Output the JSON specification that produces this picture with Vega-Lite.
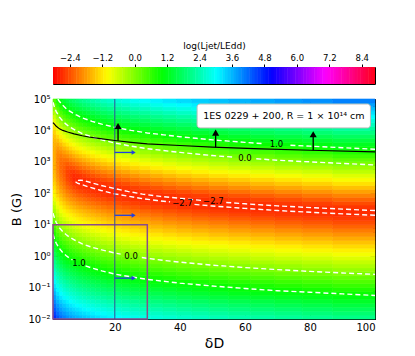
{
"$schema": "https://vega.github.io/schema/vega-lite/v6.json",
"padding": {"left": 10, "top": 40, "right": 5, "bottom": 5},
"spacing": 8,
"resolve": {"scale": {"color": "independent"}},
"config": {"font": "DejaVu Sans", "view": {"stroke": "black", "strokeWidth": 1}, "axis": {"labelFont": "DejaVu Sans", "titleFont": "DejaVu Sans", "labelColor": "black", "titleColor": "black", "tickColor": "black", "domain": false, "grid": false, "titleFontWeight": "normal"}},
"datasets": {
"rows": [{"k":1,"y":-2,"y2":-1.875},{"k":2,"y":-1.875,"y2":-1.75},{"k":3,"y":-1.75,"y2":-1.625},{"k":4,"y":-1.625,"y2":-1.5},{"k":5,"y":-1.5,"y2":-1.375},{"k":6,"y":-1.375,"y2":-1.25},{"k":7,"y":-1.25,"y2":-1.125},{"k":8,"y":-1.125,"y2":-1},{"k":9,"y":-1,"y2":-0.875},{"k":10,"y":-0.875,"y2":-0.75},{"k":11,"y":-0.75,"y2":-0.625},{"k":12,"y":-0.625,"y2":-0.5},{"k":13,"y":-0.5,"y2":-0.375},{"k":14,"y":-0.375,"y2":-0.25},{"k":15,"y":-0.25,"y2":-0.125},{"k":16,"y":-0.125,"y2":0},{"k":17,"y":0,"y2":0.125},{"k":18,"y":0.125,"y2":0.25},{"k":19,"y":0.25,"y2":0.375},{"k":20,"y":0.375,"y2":0.5},{"k":21,"y":0.5,"y2":0.625},{"k":22,"y":0.625,"y2":0.75},{"k":23,"y":0.75,"y2":0.875},{"k":24,"y":0.875,"y2":1},{"k":25,"y":1,"y2":1.125},{"k":26,"y":1.125,"y2":1.25},{"k":27,"y":1.25,"y2":1.375},{"k":28,"y":1.375,"y2":1.5},{"k":29,"y":1.5,"y2":1.625},{"k":30,"y":1.625,"y2":1.75},{"k":31,"y":1.75,"y2":1.875},{"k":32,"y":1.875,"y2":2},{"k":33,"y":2,"y2":2.125},{"k":34,"y":2.125,"y2":2.25},{"k":35,"y":2.25,"y2":2.375},{"k":36,"y":2.375,"y2":2.5},{"k":37,"y":2.5,"y2":2.625},{"k":38,"y":2.625,"y2":2.75},{"k":39,"y":2.75,"y2":2.875},{"k":40,"y":2.875,"y2":3},{"k":41,"y":3,"y2":3.125},{"k":42,"y":3.125,"y2":3.25},{"k":43,"y":3.25,"y2":3.375},{"k":44,"y":3.375,"y2":3.5},{"k":45,"y":3.5,"y2":3.625},{"k":46,"y":3.625,"y2":3.75},{"k":47,"y":3.75,"y2":3.875},{"k":48,"y":3.875,"y2":4},{"k":49,"y":4,"y2":4.125},{"k":50,"y":4.125,"y2":4.25},{"k":51,"y":4.25,"y2":4.375},{"k":52,"y":4.375,"y2":4.5},{"k":53,"y":4.5,"y2":4.625},{"k":54,"y":4.625,"y2":4.75},{"k":55,"y":4.75,"y2":4.875},{"k":56,"y":4.875,"y2":5}],
"hm": [
{"x0":1,"x1":2,"v":[4.74,4.55,4.36,4.17,3.99,3.80,3.61,3.42,3.24,3.05,2.86,2.67,2.49,2.30,2.11,1.92,1.74,1.55,1.36,1.17,0.99,0.80,0.61,0.42,0.24,0.06,-0.13,-0.31,-0.48,-0.66,-0.83,-0.99,-1.13,-1.26,-1.37,-1.46,-1.53,-1.58,-1.62,-1.64,-1.66,-1.66,-1.66,-1.64,-1.61,-1.56,-1.48,-1.36,-1.20,-1.02,-0.81,-0.59,-0.35,-0.11,0.13,0.38]},
{"x0":2,"x1":3,"v":[4.39,4.20,4.01,3.83,3.64,3.45,3.26,3.08,2.89,2.70,2.51,2.33,2.14,1.95,1.76,1.58,1.39,1.20,1.01,0.83,0.64,0.45,0.26,0.08,-0.11,-0.30,-0.49,-0.65,-0.84,-1.01,-1.18,-1.34,-1.49,-1.62,-1.74,-1.83,-1.91,-1.96,-1.99,-2.01,-2.00,-1.97,-1.91,-1.81,-1.68,-1.52,-1.32,-1.10,-0.87,-0.64,-0.40,-0.15,0.10,0.35,0.60,0.85]},
{"x0":3,"x1":4,"v":[4.17,3.98,3.79,3.61,3.42,3.23,3.04,2.86,2.67,2.48,2.29,2.11,1.92,1.73,1.54,1.36,1.17,0.98,0.79,0.61,0.42,0.23,0.04,-0.14,-0.33,-0.52,-0.71,-0.89,-1.06,-1.24,-1.41,-1.56,-1.72,-1.85,-1.97,-2.06,-2.13,-2.18,-2.20,-2.18,-2.13,-2.03,-1.89,-1.72,-1.53,-1.31,-1.08,-0.85,-0.60,-0.35,-0.10,0.16,0.41,0.66,0.91,1.16]},
{"x0":4,"x1":5,"v":[4.01,3.82,3.63,3.44,3.26,3.07,2.88,2.69,2.51,2.32,2.13,1.94,1.76,1.57,1.38,1.19,1.01,0.82,0.63,0.44,0.26,0.07,-0.12,-0.31,-0.49,-0.68,-0.87,-1.06,-1.24,-1.40,-1.57,-1.73,-1.87,-2.01,-2.12,-2.21,-2.27,-2.30,-2.28,-2.22,-2.11,-1.96,-1.78,-1.57,-1.34,-1.10,-0.87,-0.62,-0.37,-0.12,0.13,0.38,0.63,0.88,1.13,1.38]},
{"x0":5,"x1":6,"v":[3.88,3.69,3.50,3.31,3.13,2.94,2.75,2.56,2.38,2.19,2.00,1.81,1.63,1.44,1.25,1.06,0.88,0.69,0.50,0.31,0.13,-0.06,-0.25,-0.44,-0.62,-0.81,-1.00,-1.19,-1.37,-1.56,-1.72,-1.89,-2.05,-2.20,-2.33,-2.44,-2.49,-2.49,-2.42,-2.29,-2.10,-1.90,-1.67,-1.45,-1.20,-0.95,-0.70,-0.45,-0.20,0.05,0.30,0.55,0.80,1.05,1.30,1.55]},
{"x0":6,"x1":7,"v":[3.77,3.58,3.40,3.21,3.02,2.83,2.65,2.46,2.27,2.08,1.90,1.71,1.52,1.33,1.15,0.96,0.77,0.58,0.40,0.21,0.02,-0.17,-0.36,-0.54,-0.73,-0.92,-1.11,-1.29,-1.48,-1.67,-1.86,-2.01,-2.18,-2.34,-2.48,-2.58,-2.60,-2.55,-2.42,-2.24,-2.01,-1.80,-1.55,-1.30,-1.05,-0.80,-0.55,-0.30,-0.05,0.20,0.45,0.70,0.95,1.20,1.45,1.70]},
{"x0":7,"x1":8,"v":[3.68,3.49,3.31,3.12,2.93,2.74,2.56,2.37,2.18,1.99,1.81,1.62,1.43,1.24,1.06,0.87,0.68,0.49,0.31,0.12,-0.07,-0.26,-0.45,-0.63,-0.82,-1.01,-1.20,-1.38,-1.57,-1.76,-1.94,-2.13,-2.31,-2.48,-2.62,-2.71,-2.69,-2.58,-2.39,-2.16,-1.92,-1.68,-1.43,-1.18,-0.93,-0.68,-0.43,-0.18,0.07,0.32,0.57,0.82,1.07,1.32,1.57,1.82]},
{"x0":8,"x1":9,"v":[3.60,3.41,3.23,3.04,2.85,2.66,2.48,2.29,2.10,1.91,1.73,1.54,1.35,1.16,0.98,0.79,0.60,0.41,0.23,0.04,-0.15,-0.34,-0.53,-0.71,-0.90,-1.09,-1.28,-1.46,-1.65,-1.84,-2.02,-2.21,-2.38,-2.54,-2.67,-2.71,-2.65,-2.50,-2.29,-2.06,-1.81,-1.57,-1.32,-1.07,-0.82,-0.57,-0.32,-0.07,0.18,0.43,0.68,0.93,1.18,1.43,1.68,1.93]},
{"x0":9,"x1":10,"v":[3.53,3.34,3.16,2.97,2.78,2.59,2.41,2.22,2.03,1.84,1.66,1.47,1.28,1.09,0.91,0.72,0.53,0.34,0.16,-0.03,-0.22,-0.41,-0.60,-0.78,-0.97,-1.16,-1.35,-1.53,-1.72,-1.91,-2.09,-2.27,-2.45,-2.60,-2.69,-2.70,-2.60,-2.42,-2.20,-1.96,-1.72,-1.47,-1.22,-0.97,-0.72,-0.47,-0.22,0.03,0.28,0.53,0.78,1.03,1.28,1.53,1.78,2.03]},
{"x0":10,"x1":11.2,"v":[3.46,3.27,3.08,2.90,2.71,2.52,2.33,2.15,1.96,1.77,1.58,1.40,1.21,1.02,0.83,0.65,0.46,0.27,0.08,-0.10,-0.29,-0.48,-0.67,-0.85,-1.04,-1.23,-1.42,-1.60,-1.79,-1.98,-2.16,-2.34,-2.51,-2.64,-2.71,-2.67,-2.54,-2.34,-2.11,-1.87,-1.63,-1.38,-1.13,-0.88,-0.63,-0.38,-0.13,0.13,0.38,0.63,0.88,1.13,1.38,1.63,1.88,2.13]},
{"x0":11.2,"x1":12.5,"v":[3.39,3.20,3.01,2.83,2.64,2.45,2.26,2.08,1.89,1.70,1.51,1.33,1.14,0.95,0.76,0.58,0.39,0.20,0.01,-0.17,-0.36,-0.55,-0.74,-0.92,-1.11,-1.30,-1.49,-1.67,-1.86,-2.05,-2.23,-2.41,-2.56,-2.68,-2.71,-2.63,-2.47,-2.26,-2.02,-1.78,-1.53,-1.28,-1.03,-0.78,-0.53,-0.28,-0.03,0.22,0.47,0.72,0.97,1.22,1.47,1.72,1.97,2.22]},
{"x0":12.5,"x1":14,"v":[3.32,3.13,2.94,2.76,2.57,2.38,2.19,2.01,1.82,1.63,1.44,1.26,1.07,0.88,0.69,0.51,0.32,0.13,-0.06,-0.24,-0.43,-0.62,-0.81,-0.99,-1.18,-1.37,-1.56,-1.74,-1.93,-2.12,-2.30,-2.47,-2.61,-2.70,-2.69,-2.58,-2.39,-2.17,-1.93,-1.68,-1.43,-1.18,-0.93,-0.68,-0.43,-0.18,0.07,0.32,0.57,0.82,1.07,1.32,1.57,1.82,2.07,2.32]},
{"x0":14,"x1":15.7,"v":[3.25,3.06,2.87,2.68,2.50,2.31,2.12,1.93,1.75,1.56,1.37,1.18,1.00,0.81,0.62,0.43,0.25,0.06,-0.13,-0.32,-0.50,-0.69,-0.88,-1.07,-1.25,-1.44,-1.63,-1.82,-2.00,-2.19,-2.36,-2.53,-2.65,-2.71,-2.66,-2.51,-2.31,-2.07,-1.83,-1.58,-1.33,-1.08,-0.83,-0.58,-0.33,-0.08,0.17,0.42,0.67,0.92,1.17,1.42,1.67,1.92,2.17,2.42]},
{"x0":15.7,"x1":17.6,"v":[3.17,2.99,2.80,2.61,2.42,2.24,2.05,1.86,1.67,1.49,1.30,1.11,0.92,0.74,0.55,0.36,0.17,-0.01,-0.20,-0.39,-0.58,-0.76,-0.95,-1.14,-1.33,-1.51,-1.70,-1.89,-2.07,-2.26,-2.43,-2.58,-2.68,-2.70,-2.61,-2.43,-2.21,-1.98,-1.73,-1.48,-1.23,-0.98,-0.73,-0.48,-0.23,0.02,0.27,0.52,0.77,1.02,1.27,1.52,1.77,2.02,2.27,2.52]},
{"x0":17.6,"x1":19.7,"v":[3.10,2.91,2.73,2.54,2.35,2.16,1.98,1.79,1.60,1.41,1.23,1.04,0.85,0.66,0.48,0.29,0.10,-0.09,-0.27,-0.46,-0.65,-0.84,-1.02,-1.21,-1.40,-1.59,-1.77,-1.96,-2.14,-2.32,-2.49,-2.63,-2.70,-2.67,-2.55,-2.35,-2.12,-1.88,-1.64,-1.39,-1.14,-0.89,-0.64,-0.39,-0.14,0.12,0.37,0.62,0.87,1.12,1.37,1.62,1.87,2.12,2.37,2.62]},
{"x0":19.7,"x1":22,"v":[3.03,2.84,2.66,2.47,2.28,2.09,1.91,1.72,1.53,1.34,1.16,0.97,0.78,0.59,0.41,0.22,0.03,-0.16,-0.34,-0.53,-0.72,-0.91,-1.09,-1.28,-1.47,-1.66,-1.84,-2.03,-2.21,-2.39,-2.55,-2.66,-2.70,-2.63,-2.48,-2.27,-2.03,-1.79,-1.54,-1.29,-1.04,-0.79,-0.54,-0.29,-0.04,0.21,0.46,0.71,0.96,1.21,1.46,1.71,1.96,2.21,2.46,2.71]},
{"x0":22,"x1":24.7,"v":[2.96,2.77,2.58,2.40,2.21,2.02,1.83,1.65,1.46,1.27,1.08,0.90,0.71,0.52,0.33,0.15,-0.04,-0.23,-0.42,-0.60,-0.79,-0.98,-1.17,-1.35,-1.54,-1.73,-1.91,-2.10,-2.28,-2.45,-2.60,-2.69,-2.69,-2.58,-2.40,-2.17,-1.93,-1.69,-1.44,-1.19,-0.94,-0.69,-0.44,-0.19,0.06,0.31,0.56,0.81,1.06,1.31,1.56,1.81,2.06,2.31,2.56,2.81]},
{"x0":24.7,"x1":27.7,"v":[2.89,2.70,2.51,2.32,2.14,1.95,1.76,1.57,1.39,1.20,1.01,0.82,0.64,0.45,0.26,0.07,-0.11,-0.30,-0.49,-0.68,-0.86,-1.05,-1.24,-1.43,-1.61,-1.80,-1.99,-2.17,-2.35,-2.51,-2.64,-2.70,-2.65,-2.51,-2.31,-2.08,-1.84,-1.59,-1.34,-1.09,-0.84,-0.59,-0.34,-0.09,0.16,0.41,0.66,0.91,1.16,1.41,1.66,1.91,2.16,2.41,2.66,2.91]},
{"x0":27.7,"x1":31,"v":[2.81,2.63,2.44,2.25,2.06,1.88,1.69,1.50,1.31,1.13,0.94,0.75,0.56,0.38,0.19,0.00,-0.19,-0.37,-0.56,-0.75,-0.94,-1.12,-1.31,-1.50,-1.69,-1.87,-2.06,-2.24,-2.42,-2.57,-2.67,-2.69,-2.61,-2.44,-2.22,-1.98,-1.74,-1.49,-1.24,-0.99,-0.74,-0.49,-0.24,0.01,0.26,0.51,0.76,1.01,1.26,1.51,1.76,2.01,2.26,2.51,2.76,3.01]},
{"x0":31,"x1":34.8,"v":[2.74,2.56,2.37,2.18,1.99,1.81,1.62,1.43,1.24,1.06,0.87,0.68,0.49,0.31,0.12,-0.07,-0.26,-0.44,-0.63,-0.82,-1.01,-1.19,-1.38,-1.57,-1.76,-1.94,-2.13,-2.31,-2.48,-2.62,-2.69,-2.67,-2.55,-2.36,-2.13,-1.89,-1.64,-1.39,-1.14,-0.89,-0.64,-0.39,-0.14,0.11,0.36,0.61,0.86,1.11,1.36,1.61,1.86,2.11,2.36,2.61,2.86,3.11]},
{"x0":34.8,"x1":39,"v":[2.67,2.48,2.30,2.11,1.92,1.73,1.55,1.36,1.17,0.98,0.80,0.61,0.42,0.23,0.05,-0.14,-0.33,-0.52,-0.71,-0.89,-1.08,-1.27,-1.46,-1.64,-1.83,-2.02,-2.20,-2.38,-2.54,-2.65,-2.70,-2.63,-2.48,-2.27,-2.03,-1.79,-1.54,-1.29,-1.04,-0.79,-0.54,-0.29,-0.04,0.21,0.46,0.71,0.96,1.21,1.46,1.71,1.96,2.21,2.46,2.71,2.96,3.21]},
{"x0":39,"x1":43.7,"v":[2.60,2.41,2.22,2.03,1.85,1.66,1.47,1.28,1.10,0.91,0.72,0.53,0.35,0.16,-0.03,-0.22,-0.40,-0.59,-0.78,-0.97,-1.15,-1.34,-1.53,-1.72,-1.90,-2.09,-2.27,-2.44,-2.59,-2.68,-2.68,-2.58,-2.40,-2.18,-1.94,-1.69,-1.44,-1.19,-0.94,-0.69,-0.44,-0.19,0.06,0.31,0.56,0.81,1.06,1.31,1.56,1.81,2.06,2.31,2.56,2.81,3.06,3.31]},
{"x0":43.7,"x1":49,"v":[2.53,2.34,2.15,1.96,1.78,1.59,1.40,1.21,1.03,0.84,0.65,0.46,0.28,0.09,-0.10,-0.29,-0.48,-0.66,-0.85,-1.04,-1.23,-1.41,-1.60,-1.79,-1.97,-2.16,-2.34,-2.50,-2.63,-2.69,-2.65,-2.52,-2.31,-2.08,-1.84,-1.60,-1.35,-1.10,-0.85,-0.60,-0.35,-0.10,0.16,0.41,0.66,0.91,1.16,1.41,1.66,1.91,2.16,2.41,2.66,2.91,3.16,3.41]},
{"x0":49,"x1":55,"v":[2.45,2.26,2.08,1.89,1.70,1.51,1.33,1.14,0.95,0.76,0.58,0.39,0.20,0.01,-0.17,-0.36,-0.55,-0.74,-0.92,-1.11,-1.30,-1.49,-1.67,-1.86,-2.05,-2.23,-2.40,-2.56,-2.67,-2.69,-2.61,-2.44,-2.22,-1.99,-1.75,-1.50,-1.25,-1.00,-0.75,-0.50,-0.25,0.01,0.26,0.51,0.76,1.01,1.26,1.51,1.76,2.01,2.26,2.51,2.76,3.01,3.26,3.51]},
{"x0":55,"x1":61.7,"v":[2.38,2.19,2.00,1.82,1.63,1.44,1.25,1.07,0.88,0.69,0.50,0.32,0.13,-0.06,-0.25,-0.43,-0.62,-0.81,-1.00,-1.18,-1.37,-1.56,-1.75,-1.93,-2.12,-2.30,-2.47,-2.61,-2.69,-2.67,-2.55,-2.36,-2.13,-1.89,-1.65,-1.40,-1.15,-0.90,-0.65,-0.40,-0.15,0.11,0.36,0.61,0.86,1.11,1.36,1.61,1.86,2.11,2.36,2.61,2.86,3.11,3.36,3.61]},
{"x0":61.7,"x1":69.2,"v":[2.31,2.12,1.93,1.74,1.56,1.37,1.18,0.99,0.81,0.62,0.43,0.24,0.06,-0.13,-0.32,-0.51,-0.69,-0.88,-1.07,-1.26,-1.44,-1.63,-1.82,-2.00,-2.19,-2.36,-2.53,-2.65,-2.69,-2.63,-2.48,-2.27,-2.04,-1.79,-1.55,-1.30,-1.05,-0.80,-0.55,-0.30,-0.05,0.21,0.46,0.71,0.96,1.21,1.46,1.71,1.96,2.21,2.46,2.71,2.96,3.21,3.46,3.71]},
{"x0":69.2,"x1":77.6,"v":[2.23,2.05,1.86,1.67,1.48,1.30,1.11,0.92,0.73,0.55,0.36,0.17,-0.02,-0.20,-0.39,-0.58,-0.77,-0.95,-1.14,-1.33,-1.52,-1.70,-1.89,-2.08,-2.26,-2.43,-2.58,-2.67,-2.68,-2.58,-2.40,-2.18,-1.94,-1.70,-1.45,-1.20,-0.95,-0.70,-0.45,-0.20,0.06,0.31,0.56,0.81,1.06,1.31,1.56,1.81,2.06,2.31,2.56,2.81,3.06,3.31,3.56,3.81]},
{"x0":77.6,"x1":87,"v":[2.16,1.97,1.79,1.60,1.41,1.22,1.04,0.85,0.66,0.47,0.29,0.10,-0.09,-0.28,-0.46,-0.65,-0.84,-1.03,-1.22,-1.40,-1.59,-1.78,-1.96,-2.15,-2.33,-2.49,-2.62,-2.69,-2.65,-2.51,-2.31,-2.08,-1.84,-1.60,-1.35,-1.10,-0.85,-0.60,-0.35,-0.10,0.16,0.41,0.66,0.91,1.16,1.41,1.66,1.91,2.16,2.41,2.66,2.91,3.16,3.41,3.66,3.91]},
{"x0":87,"x1":100,"v":[2.08,1.89,1.71,1.52,1.33,1.14,0.96,0.77,0.58,0.39,0.21,0.02,-0.17,-0.36,-0.54,-0.73,-0.92,-1.11,-1.30,-1.48,-1.67,-1.86,-2.04,-2.23,-2.40,-2.55,-2.66,-2.68,-2.60,-2.43,-2.21,-1.98,-1.74,-1.49,-1.24,-0.99,-0.74,-0.49,-0.24,0.02,0.27,0.52,0.77,1.02,1.27,1.52,1.77,2.02,2.27,2.52,2.77,3.02,3.27,3.52,3.77,4.02]}
],
"cont": [
{"s":"u1a","o":1,"d":2.5,"lb":5.0},{"s":"u1a","o":2,"d":3,"lb":4.92},{"s":"u1a","o":3,"d":4,"lb":4.8},{"s":"u1a","o":4,"d":5,"lb":4.7},{"s":"u1a","o":5,"d":6,"lb":4.62},{"s":"u1a","o":6,"d":8,"lb":4.5},{"s":"u1a","o":7,"d":10,"lb":4.4},{"s":"u1a","o":8,"d":13,"lb":4.29},{"s":"u1a","o":9,"d":16,"lb":4.2},{"s":"u1a","o":10,"d":20,"lb":4.1},{"s":"u1a","o":11,"d":25,"lb":4.0},{"s":"u1a","o":12,"d":30,"lb":3.92},{"s":"u1a","o":13,"d":35,"lb":3.86},{"s":"u1a","o":14,"d":40,"lb":3.8},{"s":"u1a","o":15,"d":45,"lb":3.75},{"s":"u1a","o":16,"d":50,"lb":3.7},{"s":"u1a","o":17,"d":55,"lb":3.66},{"s":"u1a","o":18,"d":60,"lb":3.62},{"s":"u1a","o":19,"d":65.5,"lb":3.58},
{"s":"u1b","o":1,"d":74,"lb":3.53},{"s":"u1b","o":2,"d":80,"lb":3.5},{"s":"u1b","o":3,"d":90,"lb":3.45},{"s":"u1b","o":4,"d":100,"lb":3.4},
{"s":"u0a","o":1,"d":1,"lb":4.9},{"s":"u0a","o":2,"d":1.5,"lb":4.72},{"s":"u0a","o":3,"d":2,"lb":4.6},{"s":"u0a","o":4,"d":3,"lb":4.42},{"s":"u0a","o":5,"d":4,"lb":4.3},{"s":"u0a","o":6,"d":5,"lb":4.2},{"s":"u0a","o":7,"d":6,"lb":4.12},{"s":"u0a","o":8,"d":8,"lb":4.0},{"s":"u0a","o":9,"d":10,"lb":3.9},{"s":"u0a","o":10,"d":13,"lb":3.79},{"s":"u0a","o":11,"d":16,"lb":3.7},{"s":"u0a","o":12,"d":20,"lb":3.6},{"s":"u0a","o":13,"d":25,"lb":3.5},{"s":"u0a","o":14,"d":30,"lb":3.42},{"s":"u0a","o":15,"d":35,"lb":3.36},{"s":"u0a","o":16,"d":40,"lb":3.3},{"s":"u0a","o":17,"d":45,"lb":3.25},{"s":"u0a","o":18,"d":50,"lb":3.2},{"s":"u0a","o":19,"d":56.5,"lb":3.15},
{"s":"u0b","o":1,"d":63.5,"lb":3.1},{"s":"u0b","o":2,"d":70,"lb":3.05},{"s":"u0b","o":3,"d":80,"lb":3.0},{"s":"u0b","o":4,"d":90,"lb":2.95},{"s":"u0b","o":5,"d":100,"lb":2.9},
{"s":"l0a","o":1,"d":1,"lb":1.37},{"s":"l0a","o":2,"d":1.5,"lb":1.2},{"s":"l0a","o":3,"d":2,"lb":1.07},{"s":"l0a","o":4,"d":3,"lb":0.9},{"s":"l0a","o":5,"d":4,"lb":0.78},{"s":"l0a","o":6,"d":5,"lb":0.69},{"s":"l0a","o":7,"d":6,"lb":0.61},{"s":"l0a","o":8,"d":8,"lb":0.49},{"s":"l0a","o":9,"d":10,"lb":0.39},{"s":"l0a","o":10,"d":13,"lb":0.28},{"s":"l0a","o":11,"d":16,"lb":0.2},{"s":"l0a","o":12,"d":20,"lb":0.1},{"s":"l0a","o":13,"d":21.8,"lb":0.065},
{"s":"l0b","o":1,"d":28.3,"lb":-0.045},{"s":"l0b","o":2,"d":35,"lb":-0.136},{"s":"l0b","o":3,"d":40,"lb":-0.19},{"s":"l0b","o":4,"d":50,"lb":-0.286},{"s":"l0b","o":5,"d":60,"lb":-0.363},{"s":"l0b","o":6,"d":70,"lb":-0.428},{"s":"l0b","o":7,"d":80,"lb":-0.485},{"s":"l0b","o":8,"d":90,"lb":-0.535},{"s":"l0b","o":9,"d":100,"lb":-0.58},
{"s":"l1a","o":1,"d":1,"lb":0.7},{"s":"l1a","o":2,"d":1.5,"lb":0.53},{"s":"l1a","o":3,"d":2,"lb":0.41},{"s":"l1a","o":4,"d":3,"lb":0.24},{"s":"l1a","o":5,"d":4,"lb":0.11},{"s":"l1a","o":6,"d":5,"lb":0.02},{"s":"l1a","o":7,"d":6,"lb":-0.06},{"s":"l1a","o":8,"d":7,"lb":-0.12},
{"s":"l1b","o":1,"d":11,"lb":-0.31},{"s":"l1b","o":2,"d":13,"lb":-0.38},{"s":"l1b","o":3,"d":16,"lb":-0.47},{"s":"l1b","o":4,"d":20,"lb":-0.57},{"s":"l1b","o":5,"d":25,"lb":-0.66},{"s":"l1b","o":6,"d":30,"lb":-0.74},{"s":"l1b","o":7,"d":35,"lb":-0.8},{"s":"l1b","o":8,"d":40,"lb":-0.86},{"s":"l1b","o":9,"d":50,"lb":-0.95},{"s":"l1b","o":10,"d":60,"lb":-1.03},{"s":"l1b","o":11,"d":70,"lb":-1.1},{"s":"l1b","o":12,"d":80,"lb":-1.15},{"s":"l1b","o":13,"d":90,"lb":-1.2},{"s":"l1b","o":14,"d":100,"lb":-1.25},
{"s":"m1","o":1,"d":100,"lb":1.45},{"s":"m1","o":2,"d":85,"lb":1.52},{"s":"m1","o":3,"d":70,"lb":1.6},{"s":"m1","o":4,"d":60,"lb":1.665},{"s":"m1","o":5,"d":54,"lb":1.71},
{"s":"m2","o":1,"d":46.5,"lb":1.775},{"s":"m2","o":2,"d":40,"lb":1.84},{"s":"m2","o":3,"d":34,"lb":1.9},{"s":"m2","o":4,"d":28.5,"lb":1.975},{"s":"m2","o":5,"d":24,"lb":2.06},{"s":"m2","o":6,"d":20,"lb":2.15},{"s":"m2","o":7,"d":15.8,"lb":2.25},{"s":"m2","o":8,"d":13,"lb":2.33},{"s":"m2","o":9,"d":11,"lb":2.39},{"s":"m2","o":10,"d":9.5,"lb":2.42},{"s":"m2","o":11,"d":8.5,"lb":2.41},{"s":"m2","o":12,"d":7.9,"lb":2.37},{"s":"m2","o":13,"d":8.5,"lb":2.32},{"s":"m2","o":14,"d":10,"lb":2.27},{"s":"m2","o":15,"d":12,"lb":2.2},{"s":"m2","o":16,"d":15.8,"lb":2.09},{"s":"m2","o":17,"d":20,"lb":1.98},{"s":"m2","o":18,"d":24,"lb":1.91},{"s":"m2","o":19,"d":28.5,"lb":1.83},{"s":"m2","o":20,"d":33,"lb":1.77},{"s":"m2","o":21,"d":37,"lb":1.725},
{"s":"m3","o":1,"d":44.5,"lb":1.646},{"s":"m3","o":2,"d":50,"lb":1.595},{"s":"m3","o":3,"d":60,"lb":1.52},{"s":"m3","o":4,"d":70,"lb":1.45},{"s":"m3","o":5,"d":85,"lb":1.37},{"s":"m3","o":6,"d":100,"lb":1.3}
],
"labels": [{"d":69.7,"lb":3.557,"t":"1.0"},{"d":60,"lb":3.12,"t":"0.0"},{"d":25,"lb":0.01,"t":"0.0"},{"d":9,"lb":-0.22,"t":"1.0"},{"d":40.8,"lb":1.68,"t":"−2.7"},{"d":50.3,"lb":1.74,"t":"−2.7"}],
"bl": [{"d":1,"lb":4.25},{"d":1.5,"lb":4.19},{"d":2,"lb":4.13},{"d":3,"lb":4.05},{"d":4,"lb":4.0},{"d":5.5,"lb":3.95},{"d":7.5,"lb":3.89},{"d":10,"lb":3.83},{"d":12,"lb":3.79},{"d":15,"lb":3.75},{"d":20,"lb":3.68},{"d":25,"lb":3.62},{"d":30,"lb":3.57},{"d":40,"lb":3.52},{"d":50,"lb":3.47},{"d":65,"lb":3.41},{"d":80,"lb":3.37},{"d":100,"lb":3.32}],
"arrows": [{"d":21,"b0":3.67,"b1":4.06,"h":4.14},{"d":51,"b0":3.46,"b1":3.85,"h":3.93},{"d":81,"b0":3.37,"b1":3.79,"h":3.88}],
"barrows": [{"lb":3.3,"d0":20,"d1":25.5,"h":25.8},{"lb":1.3,"d0":20,"d1":25.5,"h":25.8},{"lb":-0.7,"d0":20,"d1":25.5,"h":25.8}]
},
"vconcat": [
{
"width": 322, "height": 17,
"data": {"values": [-3,-2.9,-2.8,-2.7,-2.6,-2.5,-2.4,-2.3,-2.2,-2.1,-2,-1.9,-1.8,-1.7,-1.6,-1.5,-1.4,-1.3,-1.2,-1.1,-1,-0.9,-0.8,-0.7,-0.6,-0.5,-0.4,-0.3,-0.2,-0.1,0,0.1,0.2,0.3,0.4,0.5,0.6,0.7,0.8,0.9,1,1.1,1.2,1.3,1.4,1.5,1.6,1.7,1.8,1.9,2,2.1,2.2,2.3,2.4,2.5,2.6,2.7,2.8,2.9,3,3.1,3.2,3.3,3.4,3.5,3.6,3.7,3.8,3.9,4,4.1,4.2,4.3,4.4,4.5,4.6,4.7,4.8,4.9,5,5.1,5.2,5.3,5.4,5.5,5.6,5.7,5.8,5.9,6,6.1,6.2,6.3,6.4,6.5,6.6,6.7,6.8,6.9,7,7.1,7.2,7.3,7.4,7.5,7.6,7.7,7.8,7.9,8,8.1,8.2,8.3,8.4,8.5,8.6,8.7,8.8,8.9]},
"mark": {"type": "rule", "strokeWidth": 3.2, "clip": true},
"encoding": {
"x": {"field": "data", "type": "quantitative", "scale": {"domain": [-3.02, 8.89], "nice": false, "zero": false}, "axis": {"orient": "top", "values": [-2.4,-1.2,0,1.2,2.4,3.6,4.8,6.0,7.2,8.4], "format": ".1f", "title": "log(Ljet/LEdd)", "titleFontSize": 9, "labelFontSize": 8.5, "tickSize": 3, "labelPadding": 2, "titlePadding": 3}},
"color": {"field": "data", "type": "quantitative", "scale": {"type": "linear", "domain": [-3.02,-1.13,-0.94,0.95,1.139,3.03,4.92,5.109,6.999,7.188,8.89], "range": ["#ff0000","#ffef00","#f7ff00","#08ff00","#00ff10","#00ffff","#0010ff","#0800ff","#f700ff","#ff00ef","#ff0018"], "interpolate": "rgb", "clamp": true}, "legend": null}
}
},
{
"width": 322, "height": 220,
"resolve": {"axis": {"x": "independent", "y": "independent"}},
"layer": [
{
"data": {"name": "hm"},
"transform": [{"flatten": ["v"]}, {"window": [{"op": "row_number", "as": "k"}], "groupby": ["x0"]}, {"lookup": "k", "from": {"data": {"name": "rows"}, "key": "k", "fields": ["y","y2"]}}],
"mark": {"type": "rect", "strokeWidth": 0.6},
"encoding": {
"x": {"field": "x0", "type": "quantitative", "scale": {"domain": [1,100], "nice": false, "zero": false}, "axis": {"orient": "bottom", "values": [20,40,60,80,100], "title": "δD", "titleFontSize": 14, "labelFontSize": 10, "tickSize": -5, "labelPadding": 8, "titlePadding": 4}},
"x2": {"field": "x1"},
"y": {"field": "y", "type": "quantitative", "scale": {"domain": [-2,5], "nice": false, "zero": false}, "axis": {"orient": "left", "values": [-2,-1.699,-1.523,-1.398,-1.301,-1.222,-1.155,-1.097,-1.046,-1,-0.699,-0.523,-0.398,-0.301,-0.222,-0.155,-0.097,-0.046,0,0.301,0.477,0.602,0.699,0.778,0.845,0.903,0.954,1,1.301,1.477,1.602,1.699,1.778,1.845,1.903,1.954,2,2.301,2.477,2.602,2.699,2.778,2.845,2.903,2.954,3,3.301,3.477,3.602,3.699,3.778,3.845,3.903,3.954,4,4.301,4.477,4.602,4.699,4.778,4.845,4.903,4.954,5], "labelExpr": "abs(datum.value - round(datum.value)) < 0.001 ? ['10⁻²','10⁻¹','10⁰','10¹','10²','10³','10⁴','10⁵'][round(datum.value)+2] : ''", "title": "B (G)", "titleFontSize": 13, "labelFontSize": 10, "tickSize": {"condition": {"test": "abs(datum.value - round(datum.value)) < 0.001", "value": -5}, "value": -2.5}, "labelPadding": 8, "titlePadding": 4}},
"y2": {"field": "y2"},
"color": {"field": "v", "type": "quantitative", "scale": {"type": "linear", "domain": [-3.02,-1.13,-0.94,0.95,1.139,3.03,4.92,5.109,6.999,7.188,8.89], "range": ["#ff0000","#ffef00","#f7ff00","#08ff00","#00ff10","#00ffff","#0010ff","#0800ff","#f700ff","#ff00ef","#ff0018"], "interpolate": "rgb", "clamp": true}, "legend": null},
"stroke": {"field": "v", "type": "quantitative", "scale": {"type": "linear", "domain": [-3.02,-1.13,-0.94,0.95,1.139,3.03,4.92,5.109,6.999,7.188,8.89], "range": ["#ff0000","#ffef00","#f7ff00","#08ff00","#00ff10","#00ffff","#0010ff","#0800ff","#f700ff","#ff00ef","#ff0018"], "interpolate": "rgb", "clamp": true}, "legend": null}
}
},
{
"data": {"name": "cont"},
"mark": {"type": "line", "color": "white", "strokeWidth": 1.4, "strokeDash": [5,3], "clip": true},
"encoding": {
"x": {"field": "d", "type": "quantitative", "axis": {"orient": "top", "values": [20,40,60,80], "labels": false, "title": null, "tickSize": -5}},
"y": {"field": "lb", "type": "quantitative", "axis": {"orient": "right", "values": [-2,-1.699,-1.523,-1.398,-1.301,-1.222,-1.155,-1.097,-1.046,-1,-0.699,-0.523,-0.398,-0.301,-0.222,-0.155,-0.097,-0.046,0,0.301,0.477,0.602,0.699,0.778,0.845,0.903,0.954,1,1.301,1.477,1.602,1.699,1.778,1.845,1.903,1.954,2,2.301,2.477,2.602,2.699,2.778,2.845,2.903,2.954,3,3.301,3.477,3.602,3.699,3.778,3.845,3.903,3.954,4,4.301,4.477,4.602,4.699,4.778,4.845,4.903,4.954,5], "labels": false, "title": null, "tickSize": {"condition": {"test": "abs(datum.value - round(datum.value)) < 0.001", "value": -5}, "value": -2.5}}},
"detail": {"field": "s"},
"order": {"field": "o"}
}
},
{
"data": {"values": [{"d0":1,"d1":30,"b0":-2,"b1":1}]},
"mark": {"type": "rect", "fillOpacity": 0, "stroke": "#8b4b8b", "strokeWidth": 1.5},
"encoding": {"x": {"field": "d0", "type": "quantitative", "axis": null}, "x2": {"field": "d1"}, "y": {"field": "b0", "type": "quantitative", "axis": null}, "y2": {"field": "b1"}}
},
{
"data": {"values": [{"d":20}]},
"mark": {"type": "rule", "color": "#34509a", "strokeWidth": 1},
"encoding": {"x": {"field": "d", "type": "quantitative", "axis": null}}
},
{
"data": {"name": "bl"},
"mark": {"type": "line", "color": "black", "strokeWidth": 1.2},
"encoding": {"x": {"field": "d", "type": "quantitative", "axis": null}, "y": {"field": "lb", "type": "quantitative", "axis": null}}
},
{
"data": {"name": "arrows"},
"mark": {"type": "rule", "color": "black", "strokeWidth": 1.3},
"encoding": {"x": {"field": "d", "type": "quantitative", "axis": null}, "y": {"field": "b0", "type": "quantitative", "axis": null}, "y2": {"field": "b1"}}
},
{
"data": {"name": "arrows"},
"mark": {"type": "point", "shape": "triangle-up", "filled": true, "color": "black", "size": 50, "opacity": 1},
"encoding": {"x": {"field": "d", "type": "quantitative", "axis": null}, "y": {"field": "h", "type": "quantitative", "axis": null}}
},
{
"data": {"name": "barrows"},
"mark": {"type": "rule", "color": "#2040e0", "strokeWidth": 1.3},
"encoding": {"x": {"field": "d0", "type": "quantitative", "axis": null}, "x2": {"field": "d1"}, "y": {"field": "lb", "type": "quantitative", "axis": null}}
},
{
"data": {"name": "barrows"},
"mark": {"type": "point", "shape": "triangle-right", "filled": true, "color": "#2040e0", "size": 22, "opacity": 1},
"encoding": {"x": {"field": "h", "type": "quantitative", "axis": null}, "y": {"field": "lb", "type": "quantitative", "axis": null}}
},
{
"data": {"name": "labels"},
"mark": {"type": "text", "fontSize": 8.5, "color": "black", "font": "DejaVu Sans"},
"encoding": {"x": {"field": "d", "type": "quantitative", "axis": null}, "y": {"field": "lb", "type": "quantitative", "axis": null}, "text": {"field": "t"}}
},
{
"data": {"values": [{"d0":45.3,"d1":98.6,"b0":4.08,"b1":4.84}]},
"mark": {"type": "rect", "fill": "white", "stroke": "#bbbbbb", "strokeWidth": 1, "cornerRadius": 3},
"encoding": {"x": {"field": "d0", "type": "quantitative", "axis": null}, "x2": {"field": "d1"}, "y": {"field": "b0", "type": "quantitative", "axis": null}, "y2": {"field": "b1"}}
},
{
"data": {"values": [{"d":72,"lb":4.46,"t":"1ES 0229 + 200,  R = 1 × 10¹⁴ cm"}]},
"mark": {"type": "text", "fontSize": 9.5, "color": "black", "font": "DejaVu Sans"},
"encoding": {"x": {"field": "d", "type": "quantitative", "axis": null}, "y": {"field": "lb", "type": "quantitative", "axis": null}, "text": {"field": "t"}}
}
]
}
]
}
